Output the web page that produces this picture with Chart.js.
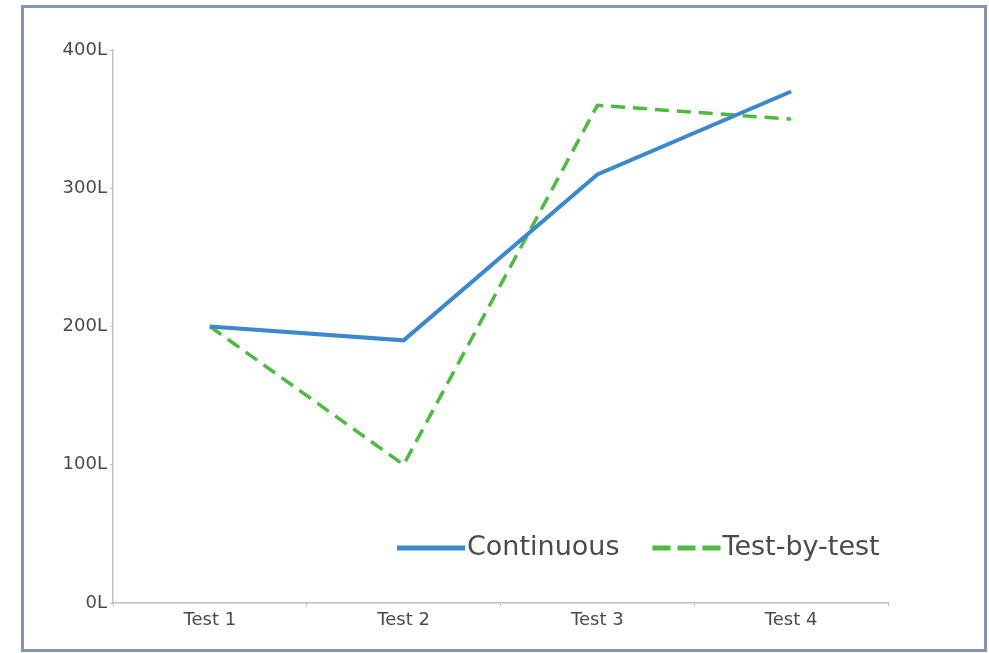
<!DOCTYPE html>
<html lang="en">
<head>
    <meta charset="UTF-8">
    <title>Continuous vs Test-by-test</title>
    <script src="https://cdn.jsdelivr.net/npm/chart.js"></script>
    <style>
        html, body {
            margin: 0;
            padding: 0;
            background: #ffffff;
        }
        body {
            width: 989px;
            height: 653px;
            position: relative;
            overflow: hidden;
        }
        .frame {
            position: absolute;
            left: 21px;
            top: 5px;
            width: 960px;
            height: 641px;
            border: 3px solid #8595b5;
            background: #ffffff;
        }
        .chart-box {
            position: absolute;
            left: 0;
            top: 0;
            width: 989px;
            height: 653px;
        }
    </style>
</head>
<body>
    <div class="frame"></div>
    <div class="chart-box">
        <canvas id="lineChart" width="989" height="653"></canvas>
    </div>

    <script>
        const categories = ['Test 1', 'Test 2', 'Test 3', 'Test 4'];
        const continuous = [200, 190, 310, 370];
        const testByTest = [200, 100, 360, 350];
        const yTicks = [0, 100, 200, 300, 400];

        const textColor = '#4a4a4a';
        const axisColor = '#bfbfbf';

        // legend drawn inside the plot, bottom right
        const insideLegend = {
            id: 'insideLegend',
            afterDatasetsDraw(chart) {
                const ctx = chart.ctx;
                const area = chart.chartArea;
                let x = area.left + 284;
                const y = area.bottom - 55;
                ctx.save();
                ctx.font = '27px "DejaVu Sans", sans-serif';
                ctx.textBaseline = 'middle';
                chart.data.datasets.forEach(ds => {
                    ctx.beginPath();
                    ctx.lineWidth = 5;
                    ctx.strokeStyle = ds.borderColor;
                    ctx.setLineDash(ds.borderDash ? [18, 7] : []);
                    ctx.moveTo(x, y);
                    ctx.lineTo(x + 68, y);
                    ctx.stroke();
                    ctx.setLineDash([]);
                    x += 70;
                    ctx.fillStyle = textColor;
                    ctx.fillText(ds.label, x, y);
                    x += ctx.measureText(ds.label).width + 33;
                });
                ctx.restore();
            }
        };

        const ctx = document.getElementById('lineChart').getContext('2d');
        new Chart(ctx, {
            type: 'line',
            data: {
                labels: categories,
                datasets: [
                    {
                        label: 'Continuous',
                        data: continuous,
                        borderColor: '#3b89cc',
                        borderWidth: 4,
                        tension: 0,
                        pointRadius: 0,
                        fill: false
                    },
                    {
                        label: 'Test-by-test',
                        data: testByTest,
                        borderColor: '#4cbb3f',
                        borderWidth: 3.5,
                        borderDash: [14, 8],
                        tension: 0,
                        pointRadius: 0,
                        fill: false
                    }
                ]
            },
            options: {
                responsive: false,
                animation: false,
                devicePixelRatio: 1,
                layout: {
                    padding: { left: 30, right: 101, top: 50, bottom: 10 }
                },
                plugins: {
                    legend: { display: false },
                    tooltip: { enabled: false }
                },
                scales: {
                    x: {
                        offset: true,
                        grid: {
                            offset: true,
                            drawOnChartArea: false,
                            drawTicks: true,
                            tickLength: 3,
                            color: axisColor
                        },
                        border: { color: axisColor, width: 1.5 },
                        ticks: {
                            color: textColor,
                            padding: 4,
                            maxRotation: 0,
                            font: { family: '"DejaVu Sans", sans-serif', size: 18 }
                        },
                        afterFit(scale) { scale.height = 40; }
                    },
                    y: {
                        min: 0,
                        max: 400,
                        afterBuildTicks(scale) {
                            scale.ticks = yTicks.map(v => ({ value: v }));
                        },
                        grid: {
                            drawOnChartArea: false,
                            drawTicks: true,
                            tickLength: 3,
                            color: axisColor
                        },
                        border: { color: axisColor, width: 1.5 },
                        ticks: {
                            color: textColor,
                            padding: 3,
                            font: { family: '"DejaVu Sans", sans-serif', size: 18 },
                            callback: v => v + 'L'
                        },
                        afterFit(scale) { scale.width = 83; }
                    }
                }
            },
            plugins: [insideLegend]
        });
    </script>
</body>
</html>
